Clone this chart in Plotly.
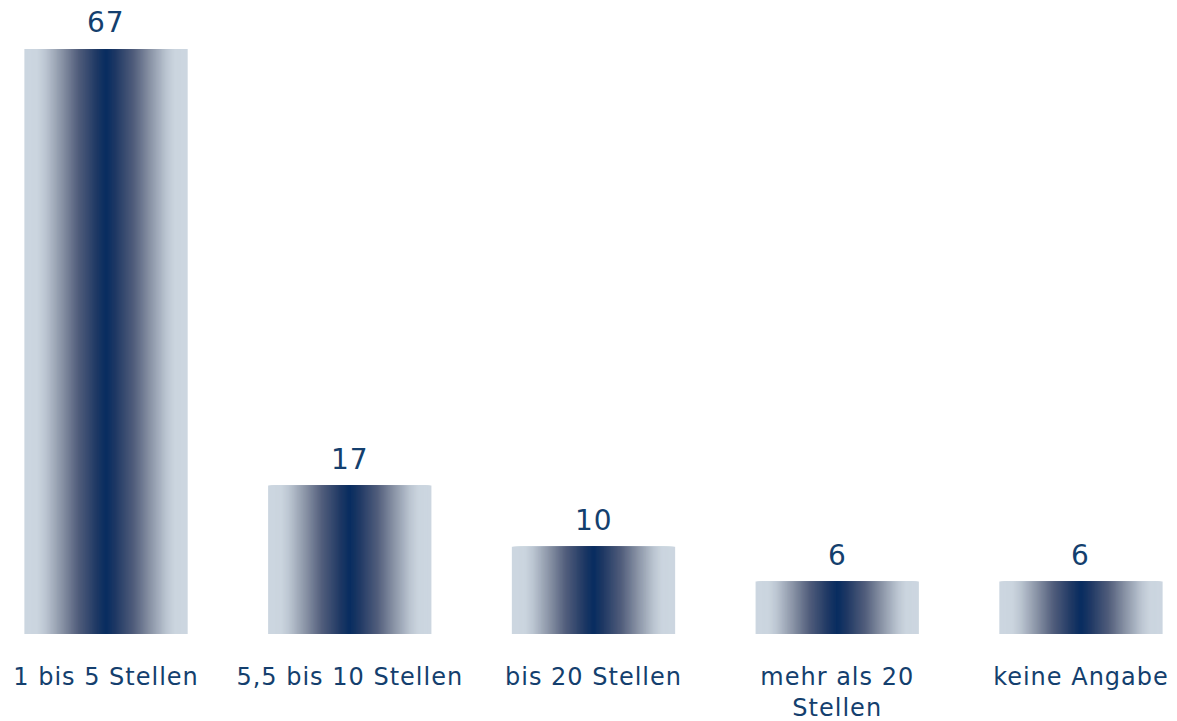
import plotly.graph_objects as go

categories = ["1 bis 5 Stellen", "5,5 bis 10 Stellen", "bis 20 Stellen", "mehr als 20 Stellen", "keine Angabe"]
tick_labels = ["1 bis 5 Stellen", "5,5 bis 10 Stellen", "bis 20 Stellen", "mehr als 20<br>Stellen", "keine Angabe"]
values = [67, 17, 10, 6, 6]

TEXT = "#143f6e"
FONT = "DejaVu Sans"
BAR_W = 0.67
SPACED = '<span style="letter-spacing:1px">%s</span>'

# gradient stops: distance from bar centre (0) to edge (1)
stops = [
    (0.00, (6, 44, 96)),
    (0.12, (30, 56, 100)),
    (0.35, (82, 94, 124)),
    (0.55, (138, 148, 166)),
    (0.75, (188, 198, 210)),
    (0.85, (203, 213, 223)),
    (1.00, (204, 214, 224)),
]


def grad(t):
    for (t0, c0), (t1, c1) in zip(stops[:-1], stops[1:]):
        if t <= t1:
            f = (t - t0) / (t1 - t0) if t1 > t0 else 0
            return "rgb(%d,%d,%d)" % tuple(round(a + (b - a) * f) for a, b in zip(c0, c1))
    return "rgb(%d,%d,%d)" % stops[-1][1]


fig = go.Figure()
N = 70
for i in range(N):
    t = 1 - i / N
    fig.add_trace(go.Bar(
        x=categories, y=values, width=BAR_W * t,
        marker=dict(color=grad(t), line=dict(width=0)),
        hoverinfo="skip", showlegend=False,
    ))

for c, v in zip(categories, values):
    fig.add_annotation(x=c, y=v, text=SPACED % v, showarrow=False, yanchor="bottom",
                       yshift=8, font=dict(family=FONT, size=28, color=TEXT))

fig.update_layout(
    width=1177, height=721,
    barmode="overlay",
    margin=dict(l=0, r=0, t=18, b=87),
    paper_bgcolor="white", plot_bgcolor="white",
    xaxis=dict(type="category", range=[-0.435, 4.394], tickvals=categories,
               ticktext=["<br>".join(SPACED % p for p in s.split("<br>")) for s in tick_labels],
               showgrid=False, zeroline=False, showline=False, ticks="",
               ticklabelstandoff=26, automargin=False,
               tickfont=dict(family=FONT, size=24, color=TEXT)),
    yaxis=dict(range=[0, 70.55], visible=False, showgrid=False, zeroline=False),
)

fig.write_html("out.html", config={"displayModeBar": False},
               post_script="document.body.style.margin='0';document.body.style.overflow='hidden';")
